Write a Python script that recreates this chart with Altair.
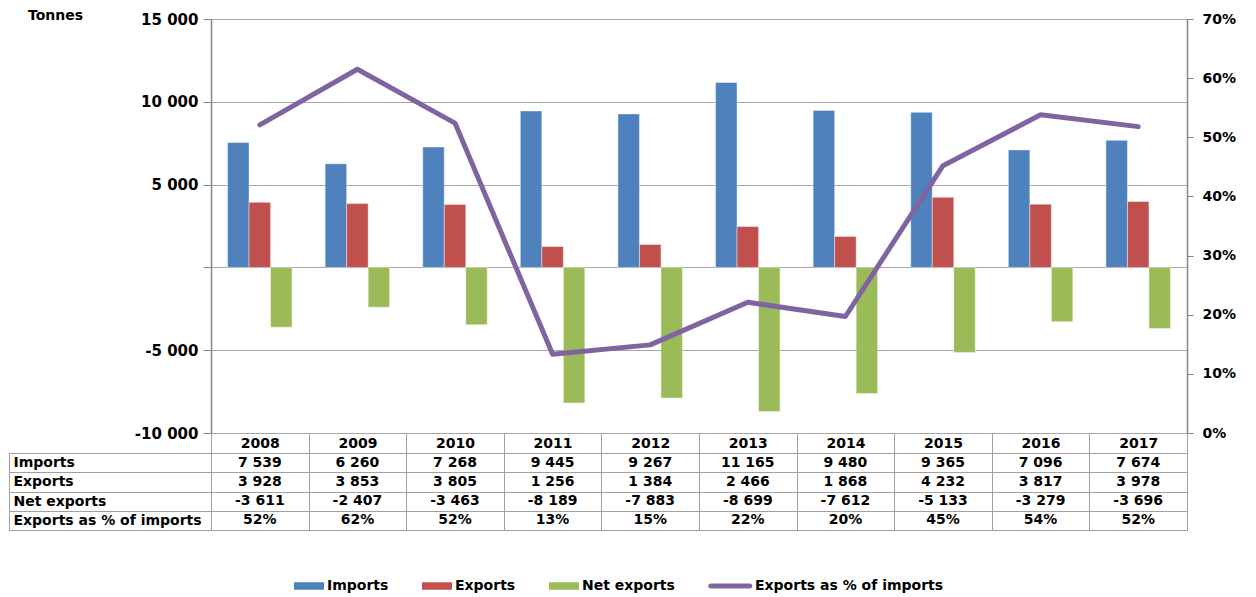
import altair as alt
import pandas as pd

FONT = "DejaVu Sans"

years = ["2008", "2009", "2010", "2011", "2012", "2013", "2014", "2015", "2016", "2017"]
imports = [7539, 6260, 7268, 9445, 9267, 11165, 9480, 9365, 7096, 7674]
exports = [3928, 3853, 3805, 1256, 1384, 2466, 1868, 4232, 3817, 3978]
net_exports = [-3611, -2407, -3463, -8189, -7883, -8699, -7612, -5133, -3279, -3696]
export_pct = [52.1, 61.5, 52.4, 13.3, 14.9, 22.1, 19.7, 45.2, 53.8, 51.8]

bar_series = ["Imports", "Exports", "Net exports"]
line_name = "Exports as % of imports"
all_series = bar_series + [line_name]
series_colors = ["#4F81BD", "#C0504D", "#9BBB59", "#8064A2"]
table_rows = ["Imports", "Exports", "Net exports", "Exports as % of imports"]

left_ticks = [-10000, -5000, 0, 5000, 10000, 15000]
right_ticks = [0, 10, 20, 30, 40, 50, 60, 70]

AXIS_C = "#868686"
GRID_C = "#A6A6A6"
TABLE_C = "#A0A0A0"

# ---- data frames
bar_rows = []
for i, y in enumerate(years):
    for s, vals in zip(bar_series, [imports, exports, net_exports]):
        bar_rows.append({"year": y, "series": s, "value": vals[i]})
bar_df = pd.DataFrame(bar_rows)

line_df = pd.DataFrame({"year": years, "pct": export_pct, "series": line_name})
legend_df = pd.DataFrame({"series": all_series})


def fmt_num(v):
    return f"{v:,}".replace(",", " ")


tab_rows = []
for i, y in enumerate(years):
    tab_rows.append({"year": y, "row": "Imports", "label": fmt_num(imports[i])})
    tab_rows.append({"year": y, "row": "Exports", "label": fmt_num(exports[i])})
    tab_rows.append({"year": y, "row": "Net exports", "label": fmt_num(net_exports[i])})
    tab_rows.append({"year": y, "row": "Exports as % of imports", "label": f"{export_pct[i]:.0f}%"})
table_df = pd.DataFrame(tab_rows)

W = 976
H = 414
TH = 77

x_enc = alt.X("year:N", sort=years, scale=alt.Scale(paddingInner=0, paddingOuter=0), axis=None)

left_label_expr = ("datum.value == 0 ? '' : replace(replace(format(datum.value, ','), ',', ' '), '\u2212', '-')")

BAR_SYM = "M-1,-0.25H1V0.25H-1Z"
LINE_SYM = "M-1.75,-0.17H0.85A0.17,0.17 0 0 1 0.85,0.17H-1.75A0.17,0.17 0 0 1 -1.75,-0.17Z"

legend_def = alt.Legend(title=None, orient="none", direction="horizontal",
                        legendX=83, legendY=552,
                        symbolSize=900, symbolStrokeWidth=0, symbolOpacity=1,
                        labelFont=FONT, labelFontSize=14, labelFontWeight="bold",
                        labelColor="black", labelOffset=3, labelLimit=0,
                        columnPadding=33)

color_enc = alt.Color("series:N", scale=alt.Scale(domain=all_series, range=series_colors),
                      legend=legend_def)
shape_enc = alt.Shape("series:N",
                      scale=alt.Scale(domain=all_series,
                                      range=[BAR_SYM, BAR_SYM, BAR_SYM, LINE_SYM]),
                      legend=legend_def)

bars = alt.Chart(bar_df).mark_bar(stroke="white", strokeWidth=0.6, strokeOpacity=0.7).encode(
    x=x_enc,
    xOffset=alt.XOffset("series:N", sort=bar_series,
                        scale=alt.Scale(paddingInner=0, paddingOuter=0.77)),
    y=alt.Y("value:Q", stack=None,
            scale=alt.Scale(domain=[-10000, 15000], nice=False, zero=False),
            axis=alt.Axis(values=left_ticks, labelExpr=left_label_expr,
                          title="Tonnes", titleAngle=0, titleX=-156, titleY=-3.5,
                          titleAlign="center", titleBaseline="middle",
                          titleFont=FONT, titleFontSize=14, titleFontWeight="bold",
                          titleColor="black",
                          grid=True, gridColor=GRID_C, gridWidth=1,
                          domainColor=AXIS_C, domainWidth=1.5,
                          tickColor=AXIS_C, tickSize=8, labelPadding=5,
                          labelFont=FONT, labelFontSize=15, labelFontWeight="bold",
                          labelColor="black")),
    color=color_enc,
)

line = alt.Chart(line_df).mark_line(strokeWidth=5, strokeCap="round", strokeJoin="round").encode(
    x=x_enc,
    y=alt.Y("pct:Q", scale=alt.Scale(domain=[0, 70], nice=False),
            axis=alt.Axis(orient="right", values=right_ticks, labelExpr="datum.value + '%'",
                          title=None, grid=False, domainColor=AXIS_C, domainWidth=1.5,
                          tickColor=AXIS_C, tickSize=6, labelPadding=9,
                          labelFont=FONT, labelFontSize=14, labelFontWeight="bold",
                          labelColor="black")),
    color=color_enc,
)

# invisible point layer that only feeds the legend its symbol shapes
legend_pts = alt.Chart(legend_df).mark_point(filled=True, opacity=0).encode(
    color=color_enc,
    shape=shape_enc,
)

top = alt.layer(bars, line, legend_pts).resolve_scale(y="independent").properties(
    width=W, height=H)

table_text = alt.Chart(table_df).mark_text(font=FONT, fontSize=14, fontWeight="bold",
                                           color="black").encode(
    x=alt.X("year:N", sort=years, scale=alt.Scale(paddingInner=0, paddingOuter=0),
            axis=alt.Axis(orient="top", tickBand="extent", tickSize=20, tickColor=TABLE_C,
                          labelPadding=-10, labelBaseline="middle", labelAngle=0,
                          labelFont=FONT, labelFontSize=14, labelFontWeight="bold",
                          labelColor="black", grid=True, gridColor=TABLE_C,
                          domain=False, title=None)),
    y=alt.Y("row:N", sort=table_rows, scale=alt.Scale(paddingInner=0, paddingOuter=0),
            axis=alt.Axis(orient="left", tickBand="extent", tickSize=202, tickColor=TABLE_C,
                          labelAlign="left", labelPadding=-4, labelBaseline="middle",
                          labelLimit=0,
                          labelFont=FONT, labelFontSize=14, labelFontWeight="bold",
                          labelColor="black", grid=True, gridColor=TABLE_C,
                          domain=True, domainColor=TABLE_C, title=None)),
    text="label:N",
)

table_border = alt.Chart(table_df).mark_text(opacity=0).encode(
    y=alt.Y("row:N", sort=table_rows, scale=alt.Scale(paddingInner=0, paddingOuter=0),
            axis=alt.Axis(orient="left", offset=202, ticks=False, labels=False, grid=False,
                          domain=True, domainColor=TABLE_C, title=None)),
    text="label:N",
)

table = alt.layer(table_text, table_border).resolve_scale(y="independent").properties(
    width=W, height=TH)

chart = alt.vconcat(top, table, spacing=20, bounds="flush").configure_view(
    stroke=None).configure(font=FONT).properties(
    padding={"left": 0, "top": 0, "right": 5, "bottom": 5})

chart.save("out.html", embed_options={"renderer": "svg", "actions": False})
